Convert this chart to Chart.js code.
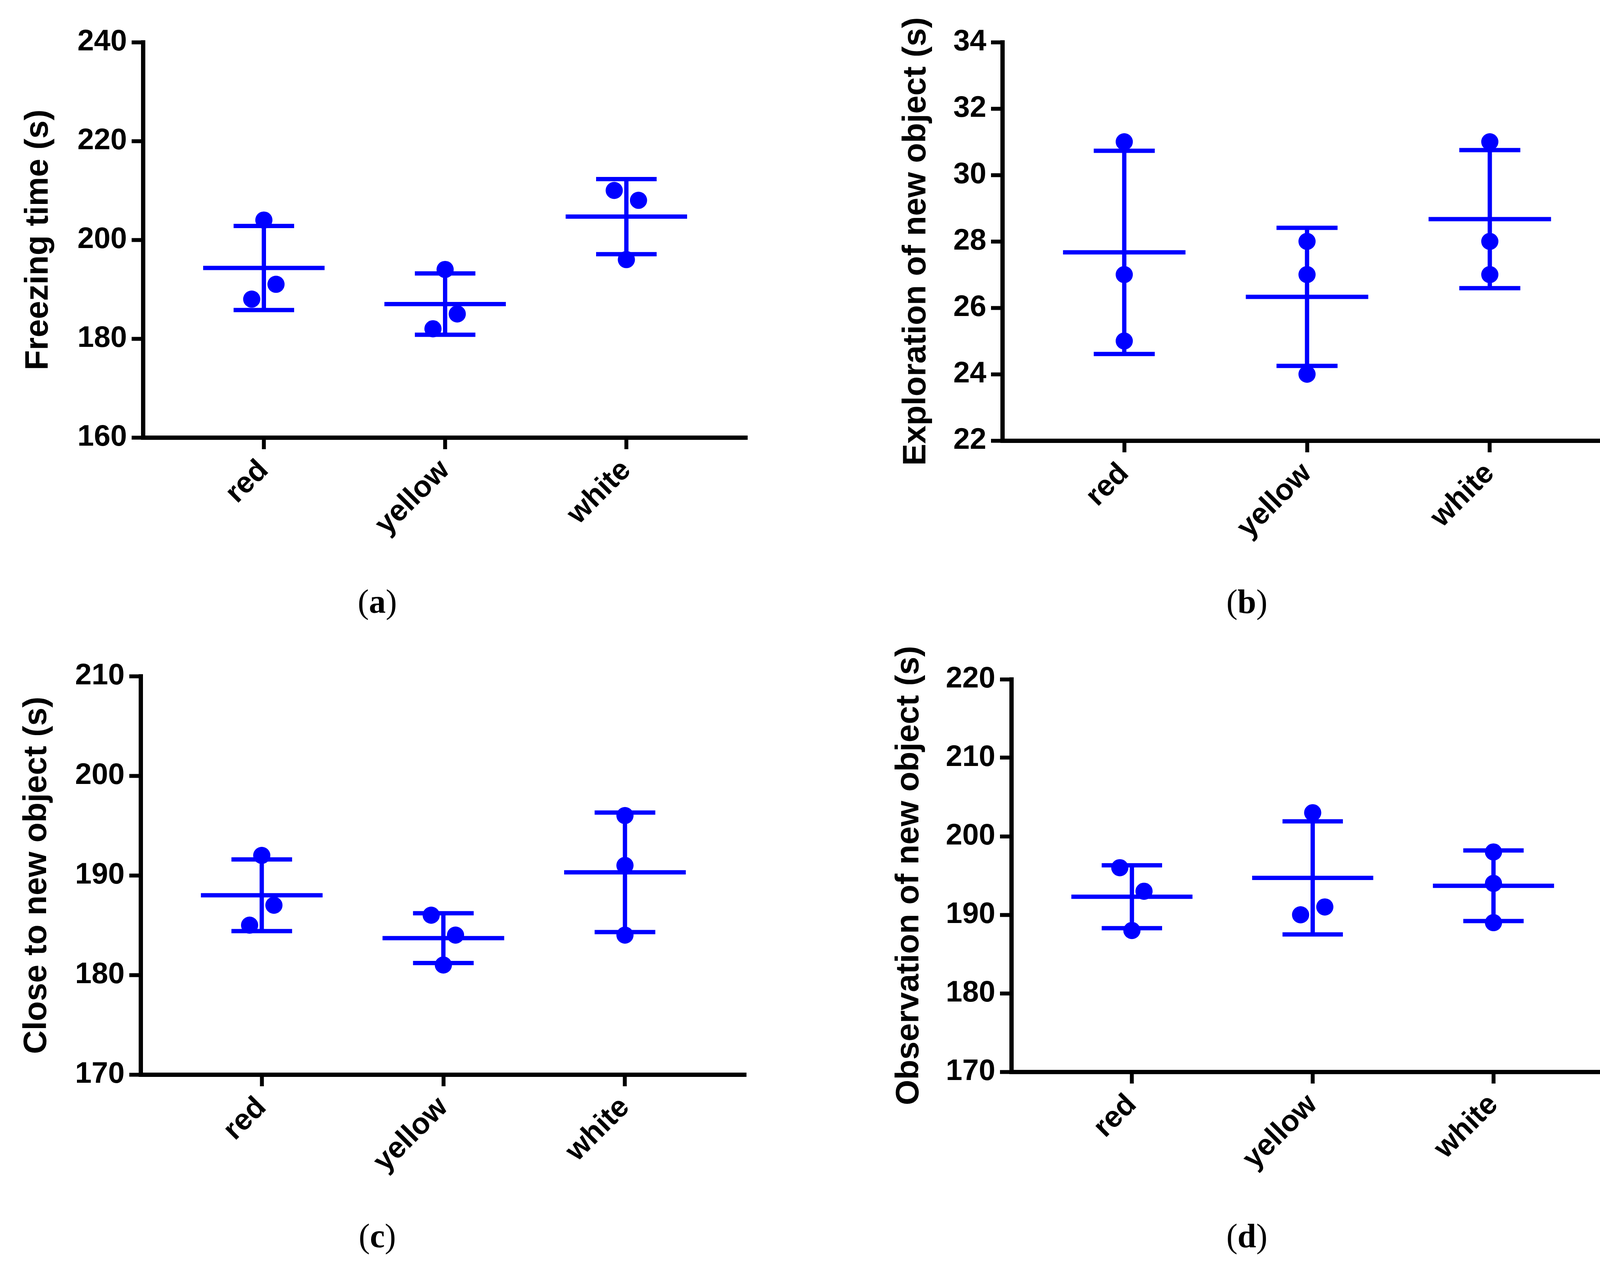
<!DOCTYPE html>
<html>
<head>
<meta charset="utf-8">
<script src="https://cdn.jsdelivr.net/npm/chart.js@4.4.1/dist/chart.umd.min.js"></script>
<style>
  html, body { margin: 0; padding: 0; background: #fff; }
  #page { position: relative; width: 4170px; height: 3236px; background: #fff; }
  .panel { position: absolute; }
  .tag {
    position: absolute;
    font-family: "Liberation Serif", "Times New Roman", serif;
    font-size: 86px;
    color: #000;
    transform: translate(-50%, -50%);
    white-space: nowrap;
  }
</style>
</head>
<body>
<div id="page">
  <canvas id="chart-a" class="panel" width="2085" height="1618" style="left:0px;top:0px"></canvas>
  <canvas id="chart-b" class="panel" width="2085" height="1618" style="left:2085px;top:0px"></canvas>
  <canvas id="chart-c" class="panel" width="2085" height="1618" style="left:0px;top:1618px"></canvas>
  <canvas id="chart-d" class="panel" width="2085" height="1618" style="left:2085px;top:1618px"></canvas>
  <div class="tag" style="left:966px;top:1540px">(<b>a</b>)</div>
  <div class="tag" style="left:3192px;top:1540px">(<b>b</b>)</div>
  <div class="tag" style="left:966px;top:3164px">(<b>c</b>)</div>
  <div class="tag" style="left:3192px;top:3164px">(<b>d</b>)</div>
</div>
<script>
// 공통 카테고리 (x축)
const CATEGORIES = ['red', 'yellow', 'white'];

// (a) Freezing time
const FREEZING_VALUES = [[204, 191, 188], [194, 185, 182], [210, 208, 196]];
const FREEZING_JITTER = [[0, 1, -1], [0, 1, -1], [-1, 1, 0]];
const FREEZING_MEAN = [194.3, 187.0, 204.7];
const FREEZING_SD = [8.5, 6.2, 7.6];
const FREEZING_TICKS = [160, 180, 200, 220, 240];

// (b) Exploration of new object
const EXPLORATION_VALUES = [[31, 27, 25], [28, 27, 24], [31, 28, 27]];
const EXPLORATION_JITTER = [[0, 0, 0], [0, 0, 0], [0, 0, 0]];
const EXPLORATION_MEAN = [27.67, 26.33, 28.67];
const EXPLORATION_SD = [3.06, 2.08, 2.08];
const EXPLORATION_TICKS = [22, 24, 26, 28, 30, 32, 34];

// (c) Close to new object
const CLOSE_VALUES = [[192, 187, 185], [186, 184, 181], [196, 191, 184]];
const CLOSE_JITTER = [[0, 1, -1], [-1, 1, 0], [0, 0, 0]];
const CLOSE_MEAN = [188.0, 183.7, 190.3];
const CLOSE_SD = [3.6, 2.5, 6.0];
const CLOSE_TICKS = [170, 180, 190, 200, 210];

// (d) Observation of new object
const OBSERVATION_VALUES = [[196, 193, 188], [203, 190, 191], [198, 194, 189]];
const OBSERVATION_JITTER = [[-1, 1, 0], [0, -1, 1], [0, 0, 0]];
const OBSERVATION_MEAN = [192.3, 194.7, 193.7];
const OBSERVATION_SD = [4.0, 7.2, 4.5];
const OBSERVATION_TICKS = [170, 180, 190, 200, 210, 220];

const BLUE = '#0000ff';
const BLACK = '#000000';
const FONT_FAMILY = '"Liberation Sans", Arial, sans-serif';
const TICK_FONT = { family: FONT_FAMILY, size: 76, weight: 'bold' };
const TITLE_FONT = { family: FONT_FAMILY, size: 84, weight: 'bold' };

const X_MIN = -0.667;
const X_MAX = 2.667;
const JITTER_STEP = 0.067;   // 점 하나 옆으로 비키는 폭 (카테고리 단위)
const MEAN_HALF = 0.335;     // 평균선 반폭
const CAP_HALF = 0.167;      // 오차막대 캡 반폭
const X_AXIS_HEIGHT = 300;

const PanelCharts = (() => {
  /** 선분 하나를 scatter + showLine 데이터셋으로 */
  function segment(x0, y0, x1, y1) {
    return {
      data: [{ x: x0, y: y0 }, { x: x1, y: y1 }],
      showLine: true,
      borderColor: BLUE,
      borderWidth: 11,
      borderCapStyle: 'butt',
      pointRadius: 0,
      pointHoverRadius: 0,
      order: 2,
    };
  }

  function buildDatasets(values, jitter, means, sds) {
    const sets = [];
    means.forEach((m, i) => {
      sets.push(segment(i - MEAN_HALF, m, i + MEAN_HALF, m));
      sets.push(segment(i, m - sds[i], i, m + sds[i]));
      sets.push(segment(i - CAP_HALF, m + sds[i], i + CAP_HALF, m + sds[i]));
      sets.push(segment(i - CAP_HALF, m - sds[i], i + CAP_HALF, m - sds[i]));
    });
    const points = [];
    values.forEach((group, i) => {
      group.forEach((v, k) => points.push({ x: i + jitter[i][k] * JITTER_STEP, y: v }));
    });
    sets.push({
      data: points,
      backgroundColor: BLUE,
      borderWidth: 0,
      pointRadius: 22,
      pointHoverRadius: 22,
      order: 1,
    });
    return sets;
  }

  function create(canvasId, p) {
    const canvas = document.getElementById(canvasId);
    const yTicks = p.ticks;
    return new Chart(canvas, {
      type: 'scatter',
      data: { datasets: buildDatasets(p.values, p.jitter, p.means, p.sds) },
      options: {
        responsive: false,
        animation: false,
        devicePixelRatio: 1,
        events: [],
        layout: {
          padding: {
            left: 0,
            top: p.top,
            right: canvas.width - p.right,
            bottom: canvas.height - p.bottom - X_AXIS_HEIGHT,
          },
        },
        plugins: { legend: { display: false }, tooltip: { enabled: false } },
        scales: {
          x: {
            type: 'linear',
            min: X_MIN,
            max: X_MAX,
            afterBuildTicks: (s) => { s.ticks = CATEGORIES.map((_, i) => ({ value: i })); },
            afterFit: (s) => { s.height = X_AXIS_HEIGHT; },
            border: { display: true, color: BLACK, width: 11 },
            grid: { display: true, drawOnChartArea: false, drawTicks: true, tickLength: 30, tickWidth: 10, tickColor: BLACK },
            ticks: {
              autoSkip: false,
              maxRotation: 45,
              minRotation: 45,
              padding: 10,
              color: BLACK,
              font: TICK_FONT,
              callback: (v) => CATEGORIES[v],
            },
          },
          y: {
            min: yTicks[0],
            max: yTicks[yTicks.length - 1],
            afterBuildTicks: (s) => { s.ticks = yTicks.map((v) => ({ value: v })); },
            afterFit: (s) => { s.width = p.left; },
            border: { display: true, color: BLACK, width: 11 },
            grid: { display: true, drawOnChartArea: false, drawTicks: true, tickLength: 29, tickWidth: 10, tickColor: BLACK },
            ticks: { color: BLACK, font: TICK_FONT, padding: 12 },
            title: {
              display: true,
              text: p.title,
              color: BLACK,
              font: TITLE_FONT,
              padding: { top: p.titlePad, bottom: 0 },
            },
          },
        },
      },
    });
  }

  function init() {
    create('chart-a', {
      title: 'Freezing time (s)', values: FREEZING_VALUES, jitter: FREEZING_JITTER,
      means: FREEZING_MEAN, sds: FREEZING_SD, ticks: FREEZING_TICKS,
      left: 366, top: 108, right: 1913, bottom: 1120, titlePad: 48,
    });
    create('chart-b', {
      title: 'Exploration of new object (s)', values: EXPLORATION_VALUES, jitter: EXPLORATION_JITTER,
      means: EXPLORATION_MEAN, sds: EXPLORATION_SD, ticks: EXPLORATION_TICKS,
      left: 481, top: 108, right: 2041, bottom: 1128, titlePad: 210,
    });
    create('chart-c', {
      title: 'Close to new object (s)', values: CLOSE_VALUES, jitter: CLOSE_JITTER,
      means: CLOSE_MEAN, sds: CLOSE_SD, ticks: CLOSE_TICKS,
      left: 360, top: 113, right: 1910, bottom: 1133, titlePad: 44,
    });
    create('chart-d', {
      title: 'Observation of new object (s)', values: OBSERVATION_VALUES, jitter: OBSERVATION_JITTER,
      means: OBSERVATION_MEAN, sds: OBSERVATION_SD, ticks: OBSERVATION_TICKS,
      left: 504, top: 121, right: 2047, bottom: 1126, titlePad: 192,
    });
  }

  return { init };
})();

PanelCharts.init();
</script>
</body>
</html>
